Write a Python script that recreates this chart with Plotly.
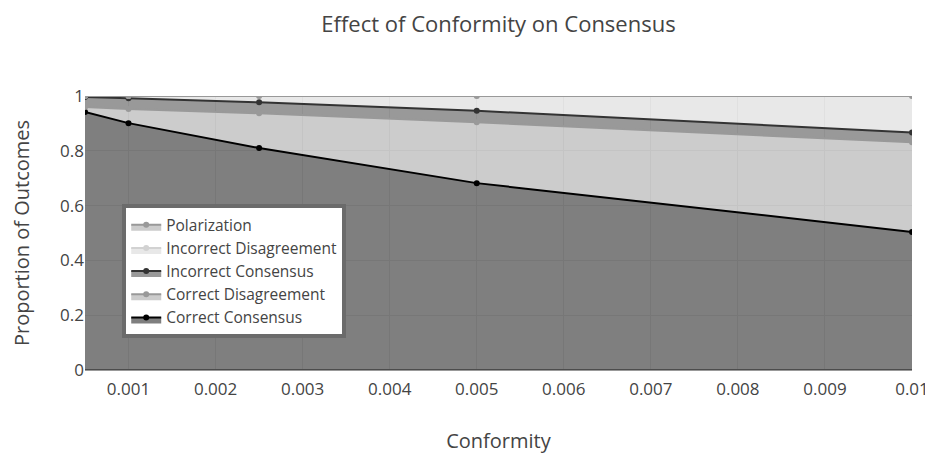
import plotly.graph_objects as go

conformity = [0.0005, 0.001, 0.0025, 0.005, 0.01]
correct_consensus = [0.942, 0.901, 0.810, 0.682, 0.504]
correct_disagreement = [0.018, 0.052, 0.127, 0.222, 0.327]
incorrect_consensus = [0.036, 0.039, 0.040, 0.042, 0.036]
incorrect_disagreement = [0.004, 0.008, 0.023, 0.054, 0.133]
polarization = [0.0, 0.0, 0.0, 0.0, 0.0]

series = [
    ("Correct Consensus", correct_consensus, "#000000"),
    ("Correct Disagreement", correct_disagreement, "#999999"),
    ("Incorrect Consensus", incorrect_consensus, "#333333"),
    ("Incorrect Disagreement", incorrect_disagreement, "#d2d2d2"),
    ("Polarization", polarization, "#999999"),
]

fig = go.Figure()
for name, vals, col in series:
    fig.add_trace(go.Scatter(
        x=conformity, y=vals, name=name, mode="lines+markers",
        stackgroup="one", line=dict(color=col, width=2),
        marker=dict(color=col, size=6),
    ))

fig.update_layout(
    width=933, height=453,
    margin=dict(l=75, r=20, t=88, b=91),
    paper_bgcolor="white", plot_bgcolor="white",
    font=dict(family="Open Sans", color="#444444"),
    title=dict(text="Effect of Conformity on Consensus", xref="paper", x=0.5,
               xanchor="center", y=0.965, yanchor="middle", font=dict(size=22)),
    xaxis=dict(title=dict(text="Conformity", font=dict(size=20), standoff=34),
               dtick=0.001, tick0=0, tickfont=dict(size=17),
               ticks="outside", ticklen=4, tickcolor="rgba(0,0,0,0)",
               gridcolor="#eeeeee", zeroline=False, showline=False,
               range=[0.0005, 0.01]),
    yaxis=dict(title=dict(text="Proportion of Outcomes", font=dict(size=20), standoff=26),
               dtick=0.2, tickfont=dict(size=17), range=[0, 1],
               gridcolor="#eeeeee", zeroline=True, zerolinecolor="#999999"),
    legend=dict(x=0.045, y=0.605, xanchor="left", yanchor="top",
                traceorder="reversed", bgcolor="white",
                bordercolor="#6b6b6b", borderwidth=4, font=dict(size=15.5)),
    showlegend=True,
)

fig.write_html("out.html")
